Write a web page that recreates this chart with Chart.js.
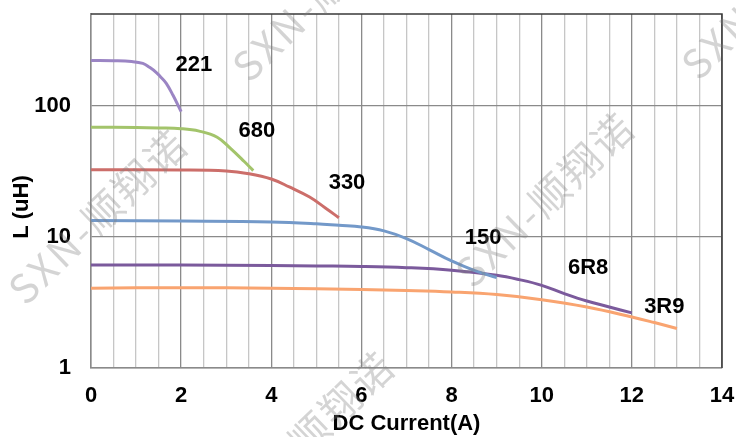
<!DOCTYPE html>
<html>
<head>
<meta charset="utf-8">
<script src="https://cdn.jsdelivr.net/npm/chart.js@4.4.1/dist/chart.umd.min.js"></script>
<style>
  body { margin: 0; background: #fff; }
  #wrap { width: 736px; height: 437px; position: relative; }
</style>
</head>
<body>
<div id="wrap"><canvas id="mycanvas"></canvas></div>
<script>
// series data (x = DC current in A, y = inductance in uH)
var x221 = [0, 0.5, 0.9, 1.15, 1.3, 1.45, 1.55, 1.67, 1.82, 2];
var y221 = [221, 220, 217, 210, 196, 179, 165, 148, 120, 90];

var x680 = [0, 1, 1.5, 2, 2.4, 2.8, 3.1, 3.4, 3.6];
var y680 = [68.5, 68.2, 67.7, 66.8, 64, 57.5, 47, 37.5, 32];

var x330 = [0, 2, 3, 3.5, 4, 4.4, 4.85, 5.2, 5.5];
var y330 = [32.5, 32.4, 31.8, 30.3, 27.6, 24.0, 20.1, 16.6, 14];

var x150 = [0, 2, 4, 5, 5.5, 6, 6.5, 7, 7.5, 8, 8.5, 9];
var y150 = [13.3, 13.2, 13, 12.6, 12.25, 11.9, 11.1, 9.7, 8.0, 6.55, 5.55, 4.9];

var x6R8 = [0, 2, 4, 5, 6, 7, 8, 9, 9.5, 10, 10.5, 11, 11.5, 12];
var y6R8 = [6.1, 6.1, 6.05, 6.0, 5.95, 5.82, 5.56, 5.09, 4.72, 4.27, 3.69, 3.24, 2.92, 2.63];

var x3R9 = [0, 2, 4, 6, 7, 8, 9, 10, 11, 12, 12.5, 13];
var y3R9 = [4.05, 4.1, 4.05, 3.97, 3.9, 3.8, 3.63, 3.32, 2.92, 2.45, 2.22, 2.0];

var seriesNames = ['221', '680', '330', '150', '6R8', '3R9'];
var labelX = [2.28, 3.68, 5.68, 8.7, 11.03, 12.72];
var labelY = [203, 63.7, 25.6, 9.74, 5.75, 2.93];

var yTicks = [1, 10, 100];

var colors = ['#9b85c4', '#a3c46b', '#cc6e6a', '#7399c9', '#7b5a9c', '#f9a470'];

function pts(xs, ys) {
  var out = [];
  for (var i in xs) out.push({x: xs[i], y: ys[i]});
  return out;
}

var allX = [x221, x680, x330, x150, x6R8, x3R9];
var allY = [y221, y680, y330, y150, y6R8, y3R9];

var datasets = [];
for (var i = 0; i < seriesNames.length; i++) {
  datasets.push({
    label: seriesNames[i],
    data: pts(allX[i], allY[i]),
    borderColor: colors[i],
    borderWidth: 3,
    pointRadius: 0,
    fill: false,
    tension: 0.4
  });
}

var FONT = '"Liberation Sans", Arial, sans-serif';
Chart.defaults.font.family = FONT;

var extras = {
  id: 'extras',
  afterDatasetsDraw: function(chart) {
    var ctx = chart.ctx, a = chart.chartArea;
    var xs = chart.scales.x, ys = chart.scales.y;
    ctx.save();
    // top and right frame
    ctx.strokeStyle = '#3a3a3a';
    ctx.lineWidth = 1.5;
    ctx.beginPath();
    ctx.moveTo(a.left, a.top);
    ctx.lineTo(a.right, a.top);
    ctx.lineTo(a.right, a.bottom);
    ctx.stroke();

    // curve names
    ctx.fillStyle = '#000';
    ctx.font = 'bold 22px ' + FONT;
    ctx.textAlign = 'center';
    ctx.textBaseline = 'middle';
    for (var i = 0; i < seriesNames.length; i++) {
      ctx.fillText(seriesNames[i], xs.getPixelForValue(labelX[i]), ys.getPixelForValue(labelY[i]));
    }

    // y axis title
    ctx.save();
    ctx.translate(22, 207);
    ctx.rotate(-Math.PI / 2);
    ctx.fillText('L (uH)', 0, 0);
    ctx.restore();

    // watermark
    var marks = [[98, 216], [545, 199], [322, -7], [771, -9], [305, 438]];
    ctx.font = '40px "Noto Sans CJK SC", sans-serif';
    ctx.fillStyle = 'rgba(130,130,130,0.34)';
    try { ctx.letterSpacing = '3px'; } catch (e) {}
    for (var j = 0; j < marks.length; j++) {
      ctx.save();
      ctx.translate(marks[j][0], marks[j][1]);
      ctx.rotate(-44 * Math.PI / 180);
      ctx.fillText('SXN-顺翔诺', 0, 0);
      ctx.restore();
    }
    ctx.restore();
  }
};

var ctx = document.getElementById('mycanvas');
var chart = new Chart(ctx, {
  type: 'line',
  data: { datasets: datasets },
  plugins: [extras],
  options: {
    responsive: true,
    maintainAspectRatio: false,
    animation: false,
    layout: { padding: { top: 14, right: 14, left: 0, bottom: 0 } },
    plugins: {
      legend: { display: false },
      tooltip: { enabled: false }
    },
    scales: {
      x: {
        type: 'linear',
        min: 0,
        max: 14,
        afterFit: function(s) {
          s.height = 69;
          s.paddingLeft = 0;
          s.paddingRight = 0;
        },
        ticks: {
          stepSize: 0.5,
          autoSkip: false,
          maxRotation: 0,
          padding: 15,
          color: '#000',
          font: { size: 22, weight: 'bold' },
          callback: function(v) { return v % 2 === 0 ? String(v) : ''; }
        },
        grid: {
          drawTicks: false,
          lineWidth: 1.3,
          color: function(c) { return c.tick && c.tick.value % 2 === 0 ? '#8a8a8a' : '#c6c6c6'; }
        },
        border: { color: '#8a8a8a', width: 1.5 },
        title: {
          display: true,
          text: 'DC Current(A)',
          color: '#000',
          font: { size: 22, weight: 'bold' },
          padding: { top: 0, bottom: 0 }
        }
      },
      y: {
        type: 'logarithmic',
        min: 1,
        max: 500,
        afterFit: function(s) {
          s.width = 91;
          s.paddingTop = 0;
          s.paddingBottom = 0;
        },
        afterBuildTicks: function(s) {
          s.ticks = yTicks.map(function(v) { return {value: v}; });
        },
        ticks: {
          padding: 20,
          color: '#000',
          font: { size: 22, weight: 'bold' },
          callback: function(v) { return String(v); }
        },
        grid: { drawTicks: false, lineWidth: 1.3, color: '#8a8a8a' },
        border: { color: '#8a8a8a', width: 1.5 }
      }
    }
  }
});
</script>
</body>
</html>
